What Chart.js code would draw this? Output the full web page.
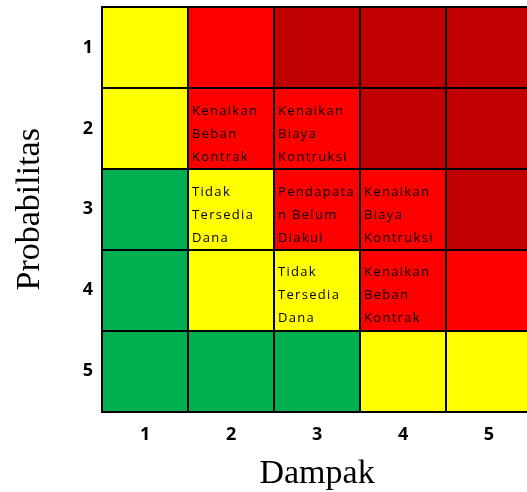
<!DOCTYPE html>
<html>
<head>
<meta charset="utf-8">
<script src="https://cdn.jsdelivr.net/npm/chart.js@4.4.1/dist/chart.umd.min.js"></script>
<style>
  html, body { margin: 0; padding: 0; background: #fff; overflow: hidden; }
  #wrap { width: 540px; height: 492px; }
</style>
</head>
<body>
<div id="wrap"><canvas id="risk"></canvas></div>
<script>
// Impact (Dampak) categories along x, probability (Probabilitas) rows along y
const impactLabels = ['1', '2', '3', '4', '5'];
const probabilityLabels = ['1', '2', '3', '4', '5'];

// Risk level per cell, rows 1..5 top to bottom, columns impact 1..5
const levelRow1 = ['medium', 'high', 'extreme', 'extreme', 'extreme'];
const levelRow2 = ['medium', 'high', 'high', 'extreme', 'extreme'];
const levelRow3 = ['low', 'medium', 'high', 'high', 'extreme'];
const levelRow4 = ['low', 'medium', 'medium', 'high', 'high'];
const levelRow5 = ['low', 'low', 'low', 'medium', 'medium'];
const levelRows = [levelRow1, levelRow2, levelRow3, levelRow4, levelRow5];

const levelColors = {
  low: '#00B050',
  medium: '#FFFF00',
  high: '#FF0000',
  extreme: '#C00000'
};

// Risk items placed in the matrix: [probability row, impact column, wrapped text lines]
const riskItems = [
  [2, 2, ['Kenaikan', 'Beban', 'Kontrak']],
  [2, 3, ['Kenaikan', 'Biaya', 'Kontruksi']],
  [3, 2, ['Tidak', 'Tersedia', 'Dana']],
  [3, 3, ['Pendapata', 'n Belum', 'Diakui']],
  [3, 4, ['Kenaikan', 'Biaya', 'Kontruksi']],
  [4, 3, ['Tidak', 'Tersedia', 'Dana']],
  [4, 4, ['Kenaikan', 'Beban', 'Kontrak']]
];

// One floating-bar dataset per probability row: spans [row-1, row]
const datasets = levelRows.map((row, r) => ({
  label: 'Probabilitas ' + probabilityLabels[r],
  data: impactLabels.map(() => [r, r + 1]),
  backgroundColor: row.map(l => levelColors[l]),
  borderWidth: 0,
  barPercentage: 1,
  categoryPercentage: 1,
  grouped: false
}));

// Writes the risk item names inside their cells
const cellText = {
  id: 'cellText',
  afterDatasetsDraw(chart) {
    const { ctx, scales: { x, y } } = chart;
    const colW = x.width / impactLabels.length;
    ctx.save();
    ctx.font = '13px "Open Sans"';
    ctx.letterSpacing = '1.3px';
    ctx.fillStyle = '#000';
    ctx.textAlign = 'left';
    ctx.textBaseline = 'middle';
    riskItems.forEach(([r, c, lines]) => {
      const left = x.getPixelForValue(c - 1) - colW / 2;
      const top = y.getPixelForValue(r - 1);
      lines.forEach((t, i) => ctx.fillText(t, left + 4, top + 23 + i * 23));
    });
    ctx.restore();
  }
};

const isRowMiddle = v => v % 1 === 0.5;

new Chart(document.getElementById('risk'), {
  type: 'bar',
  data: { labels: impactLabels, datasets },
  plugins: [cellText],
  options: {
    responsive: true,
    maintainAspectRatio: false,
    animation: false,
    layout: { padding: { left: 10, top: 7, right: 8, bottom: 0 } },
    plugins: { legend: { display: false }, tooltip: { enabled: false } },
    scales: {
      x: {
        offset: true,
        grid: { z: 1, offset: true, color: '#000', lineWidth: 2, drawTicks: false },
        border: { z: 1, display: true, color: '#000', width: 2 },
        ticks: { color: '#000', font: { family: '"Open Sans"', size: 18, weight: 'bold' }, padding: 12 },
        title: {
          display: true, text: 'Dampak', color: '#000',
          font: { family: '"Liberation Serif"', size: 34 }, padding: { top: -4, bottom: -2 }
        }
      },
      y: {
        min: 0, max: 5, reverse: true,
        afterBuildTicks(scale) {
          const t = [];
          for (let v = 0; v <= 10; v++) t.push({ value: v / 2 });
          scale.ticks = t;
        },
        // the edge ticks carry no label, so they need no room above or below the grid
        afterFit(scale) {
          scale.paddingTop = 0;
          scale.paddingBottom = 0;
        },
        grid: {
          z: 1, drawTicks: false, lineWidth: 2,
          color: c => (c.tick && c.tick.value % 1 === 0) ? '#000' : 'rgba(0,0,0,0)'
        },
        border: { z: 1, display: true, color: '#000', width: 2 },
        ticks: {
          color: '#000', padding: 9, autoSkip: false,
          font: { family: '"Open Sans"', size: 18, weight: 'bold' },
          callback: v => isRowMiddle(v) ? probabilityLabels[Math.floor(v)] : ''
        },
        title: {
          display: true, text: 'Probabilitas', color: '#000',
          font: { family: '"Liberation Serif"', size: 34 }, padding: { top: 0, bottom: 23 }
        }
      }
    }
  }
});
</script>
</body>
</html>
